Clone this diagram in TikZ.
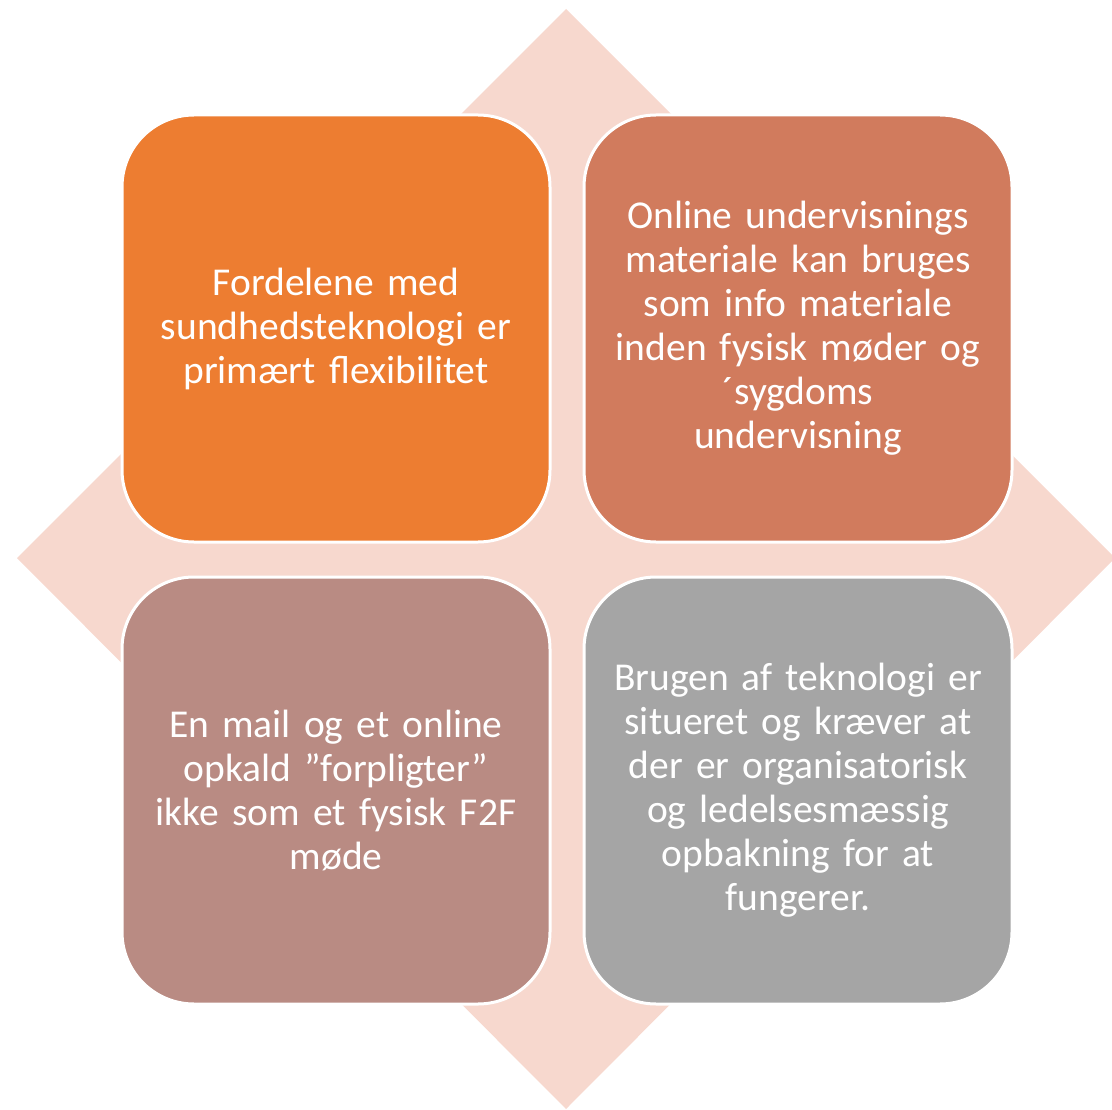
\documentclass[tikz,border=0pt]{standalone}
\usepackage{fontspec}
\setmainfont{Carlito}
\definecolor{diam}{RGB}{247,216,206}
\definecolor{cTL}{RGB}{237,125,49}
\definecolor{cTR}{RGB}{209,123,93}
\definecolor{cBL}{RGB}{185,139,131}
\definecolor{cBR}{RGB}{165,165,165}
\tikzset{
  quad/.style={draw=white, line width=3pt, rounded corners=72pt, minimum width=428pt, minimum height=427pt, inner sep=0pt, text width=410pt, align=center, text=white, font=\fontsize{39.5}{44}\selectfont}
}
\begin{document}
\begin{tikzpicture}[x=1pt,y=-1pt]
\useasboundingbox (0,0) rectangle (1112,1110);
\fill[diam] (566,9) -- (1115,558) -- (566,1109) -- (17,558) -- cycle;
\node[quad, fill=cTL] (tl) at (336,328.5) {Fordelene med\\ sundhedsteknologi er\\ primært flexibilitet};
\node[quad, fill=cTR] (tr) at (798,328.5) {Online undervisnings\\ materiale kan bruges\\ som info materiale\\ inden fysisk møder og\\ ´sygdoms\\ undervisning};
\node[quad, fill=cBL] (bl) at (336,790.5) {En mail og et online\\ opkald ”forpligter”\\ ikke som et fysisk F2F\\ møde};
\node[quad, fill=cBR] (br) at (798,790.5) {Brugen af teknologi er\\ situeret og kræver at\\ der er organisatorisk\\ og ledelsesmæssig\\ opbakning for at\\ fungerer.};
\end{tikzpicture}
\end{document}
